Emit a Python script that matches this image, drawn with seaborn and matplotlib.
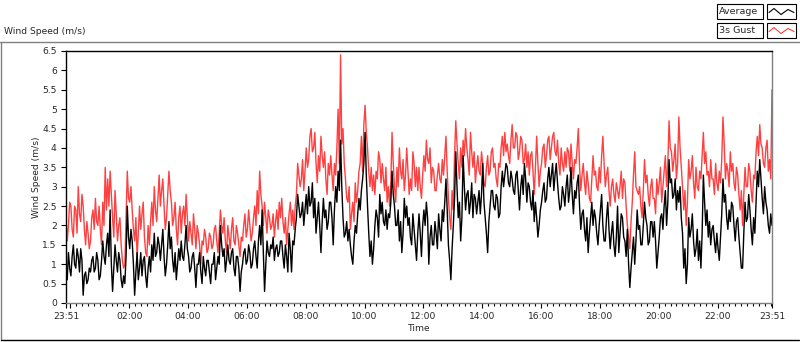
import numpy as np
import pandas as pd
import matplotlib
matplotlib.use("Agg")
import matplotlib.pyplot as plt
import seaborn as sns
from matplotlib.lines import Line2D
from matplotlib.patches import Rectangle

# 2.5-minute samples, one row per hour starting 23:51
gust_speed = [
    2.2, 1.6, 2.0, 2.6, 2.5, 1.9, 1.7, 2.5, 2.4, 1.8, 3.0, 2.3, 2.1, 2.8, 2.5, 1.9, 1.5, 2.1, 1.8, 1.4, 1.6, 2.2, 2.4, 1.9,
    2.7, 2.1, 2.0, 2.5, 1.9, 1.5, 2.6, 2.0, 3.5, 2.4, 3.2, 2.5, 3.4, 2.8, 2.2, 1.7, 2.9, 2.3, 1.6, 2.0, 2.2, 1.5, 1.1, 0.9,
    1.0, 2.2, 3.4, 2.7, 2.6, 3.0, 2.4, 1.9, 1.6, 2.2, 1.2, 1.8, 2.5, 1.9, 2.3, 2.6, 1.7, 1.3, 1.2, 2.0, 1.5, 2.1, 2.6, 2.0,
    3.0, 2.4, 2.1, 2.7, 3.3, 2.5, 2.9, 3.2, 2.5, 1.9, 2.2, 2.8, 3.4, 2.9, 2.6, 2.0, 2.2, 2.6, 1.9, 1.5, 2.2, 2.5, 1.8, 2.3,
    2.5, 2.0, 2.8, 2.2, 1.6, 2.1, 1.8, 1.5, 2.3, 1.9, 1.4, 2.0, 1.8, 1.5, 1.0, 1.6, 1.5, 1.9, 1.7, 1.3, 1.4, 1.8, 1.7, 1.4,
    1.5, 1.9, 2.0, 1.6, 1.3, 1.8, 2.4, 2.0, 1.8, 2.2, 1.6, 1.3, 2.0, 1.7, 1.4, 1.9, 2.2, 1.6, 1.5, 2.0, 1.8, 1.5, 1.2, 1.7,
    1.6, 2.0, 2.3, 1.7, 1.9, 2.4, 2.0, 1.6, 1.8, 2.2, 2.5, 2.0, 2.9, 2.3, 3.4, 2.8, 2.5, 2.0, 2.6, 2.2, 1.8, 2.4, 2.2, 1.9,
    2.0, 2.3, 1.7, 2.1, 2.4, 1.9, 2.6, 2.2, 2.7, 2.1, 1.8, 2.2, 1.5, 1.9, 2.3, 2.6, 2.0, 2.4, 1.9, 2.5, 2.8, 3.6, 3.3, 3.0,
    3.2, 3.7, 2.9, 3.4, 4.0, 3.5, 3.7, 4.3, 4.5, 3.9, 4.0, 4.4, 3.6, 3.1, 3.8, 3.4, 4.3, 3.8, 3.5, 3.9, 3.2, 2.8, 3.6, 3.3,
    3.8, 3.3, 2.9, 3.6, 3.3, 4.0, 5.0, 3.6, 6.4, 4.1, 4.5, 3.6, 3.2, 2.7, 2.6, 3.0, 1.9, 2.3, 2.6, 2.1, 3.1, 2.6, 2.9, 3.4,
    3.6, 4.3, 3.4, 4.6, 5.1, 4.4, 4.0, 3.4, 3.0, 3.5, 2.9, 3.3, 2.8, 3.4, 3.2, 3.9, 3.7, 3.1, 3.6, 3.2, 2.9, 3.5, 2.6, 3.0,
    2.5, 3.1, 4.4, 3.6, 3.0, 2.6, 3.5, 3.0, 4.0, 3.4, 3.2, 3.7, 2.9, 3.3, 4.0, 3.4, 2.8, 3.2, 2.9, 3.9, 3.6, 3.0, 3.5, 2.9,
    3.5, 3.0, 2.7, 3.3, 3.8, 3.4, 4.2, 3.7, 3.6, 4.0, 3.1, 3.5, 3.4, 2.9, 2.9, 3.3, 3.6, 3.2, 3.1, 3.7, 3.3, 3.8, 4.3, 3.4,
    2.7, 2.2, 1.9, 2.9, 2.4, 3.8, 4.7, 4.1, 3.6, 3.2, 4.0, 3.5, 4.2, 3.8, 4.5, 4.0, 3.7, 3.3, 4.4, 3.9, 3.5, 3.9, 3.1, 3.5,
    3.8, 3.4, 3.3, 3.9, 3.6, 3.1, 3.0, 3.5, 3.8, 3.3, 3.4, 3.9, 4.0, 3.5, 3.6, 3.2, 3.0, 3.6, 3.5, 4.0, 4.3, 3.8, 4.4, 3.9,
    4.1, 3.8, 3.6, 4.2, 4.6, 4.0, 4.0, 4.4, 4.3, 3.7, 3.9, 4.3, 4.2, 3.6, 3.7, 4.1, 3.5, 3.9, 3.3, 3.8, 3.9, 3.4, 2.8, 3.5,
    4.3, 3.6, 3.0, 3.4, 3.6, 4.0, 4.1, 3.5, 3.8, 4.2, 4.3, 3.7, 4.0, 4.3, 4.4, 3.9, 3.8, 4.2, 3.6, 3.3, 4.0, 3.6, 3.4, 3.9,
    3.5, 4.0, 3.9, 3.4, 4.1, 3.6, 3.2, 3.7, 3.6, 4.0, 4.5, 3.5, 2.9, 3.3, 3.6, 3.1, 2.8, 3.4, 3.1, 2.7, 2.6, 3.2, 3.8, 3.3,
    3.4, 3.0, 2.9, 3.5, 3.1, 3.8, 4.3, 3.6, 3.0, 3.3, 3.5, 2.9, 2.5, 3.0, 3.2, 2.8, 2.6, 3.1, 2.9, 2.7, 3.0, 3.4, 2.7, 3.2,
    3.1, 2.5, 2.0, 1.7, 1.4, 2.1, 2.6, 3.3, 3.9, 3.0, 2.9, 2.8, 3.0, 2.5, 2.2, 2.9, 3.7, 3.1, 3.3, 2.8, 2.5, 3.0, 3.2, 2.7,
    2.7, 2.3, 3.2, 2.8, 3.1, 3.5, 2.6, 3.0, 3.4, 3.8, 3.0, 3.6, 4.7, 4.0, 3.9, 3.4, 3.7, 4.1, 3.2, 3.6, 4.8, 4.0, 3.5, 3.0,
    2.4, 2.9, 2.0, 2.6, 3.7, 3.2, 3.4, 3.8, 3.1, 2.7, 3.5, 3.0, 2.9, 3.4, 3.2, 3.8, 4.4, 3.6, 3.9, 3.3, 3.4, 3.0, 3.7, 3.2,
    3.2, 2.8, 3.6, 3.1, 2.9, 3.4, 3.1, 3.7, 4.8, 4.1, 3.2, 3.6, 3.4, 3.0, 3.9, 3.4, 3.6, 3.1, 2.9, 3.5, 3.3, 2.8, 2.4, 2.9,
    2.0, 2.8, 3.5, 3.0, 3.0, 3.6, 3.4, 2.9, 2.6, 3.3, 3.2, 3.9, 4.3, 3.8, 4.6, 4.1, 4.0, 3.6, 3.5, 4.0, 4.2, 3.4, 3.7, 3.2,
    5.5,
]
avg_speed = [
    1.0, 0.6, 1.3, 0.9, 0.7, 1.2, 1.5, 1.0, 0.9, 1.4, 1.2, 0.8, 1.4, 1.1, 0.2, 0.7, 0.8, 0.5, 0.6, 0.9, 0.8, 1.1, 1.2, 0.8,
    0.9, 1.3, 1.1, 0.6, 0.7, 1.1, 1.6, 1.2, 1.0, 1.5, 1.8, 1.2, 2.4, 1.0, 0.3, 0.9, 1.5, 1.1, 0.8, 1.3, 1.1, 0.6, 0.4, 0.7,
    0.5, 1.2, 2.5, 1.7, 1.4, 1.9, 1.6, 1.0, 0.2, 0.8, 1.3, 0.6, 0.9, 1.3, 0.7, 1.1, 1.2, 0.7, 0.4, 0.9, 1.2, 0.8, 1.5, 1.1,
    1.8, 1.2, 1.3, 1.7, 1.5, 1.1, 1.5, 1.9, 1.2, 0.7, 1.0, 1.5, 2.1, 1.4, 1.7, 1.1, 0.8, 1.3, 0.6, 1.0, 1.4, 1.1, 1.6, 1.2,
    1.1, 1.5, 2.0, 1.4, 1.2, 0.8, 0.9, 1.2, 1.3, 0.9, 0.4, 1.0, 1.0, 1.3, 0.8, 0.5, 1.2, 0.9, 0.7, 1.1, 1.1, 0.8, 0.5, 1.0,
    1.0, 1.3, 0.6, 0.9, 1.2, 1.0, 2.0, 1.5, 1.2, 1.4, 0.8, 1.1, 1.5, 1.1, 1.0, 1.3, 1.4, 0.9, 0.7, 1.2, 1.2, 0.9, 0.3, 0.8,
    1.0, 1.3, 1.4, 1.0, 1.1, 1.5, 1.3, 0.9, 1.0, 1.4, 1.6, 1.2, 0.9, 1.6, 2.0, 1.5, 2.4, 1.3, 0.3, 1.0, 1.6, 1.3, 1.2, 1.5,
    1.4, 1.7, 1.1, 1.4, 1.5, 1.2, 1.3, 1.6, 1.6, 1.2, 0.9, 1.5, 1.2, 0.8, 1.8, 1.4, 0.8, 1.6, 1.5, 1.9, 2.2, 2.8, 2.5, 2.2,
    2.3, 2.6, 2.0, 2.4, 2.8, 2.3, 3.0, 2.5, 2.6, 3.1, 2.2, 2.7, 1.8, 2.2, 2.6, 2.0, 1.3, 2.1, 2.7, 2.2, 2.4, 1.9, 2.1, 2.6,
    2.6, 2.2, 1.5, 2.4, 3.0, 2.6, 3.4, 2.9, 4.2, 3.0, 2.2, 1.7, 1.8, 2.1, 1.6, 1.9, 1.5, 1.2, 1.0, 1.6, 2.0, 1.8, 2.3, 2.7,
    2.4, 2.9, 3.2, 3.6, 4.4, 3.3, 2.5, 1.8, 1.2, 1.6, 1.0, 1.4, 2.0, 2.4, 2.2, 1.7, 2.8, 2.3, 2.6, 2.1, 2.0, 2.4, 1.9, 2.3,
    2.2, 2.6, 3.4, 2.8, 2.5, 2.0, 2.0, 2.4, 1.6, 2.1, 1.3, 1.8, 2.7, 2.2, 2.5, 2.0, 2.2, 1.7, 1.5, 2.3, 1.9, 1.5, 1.1, 1.8,
    2.3, 1.8, 1.2, 2.0, 2.4, 2.0, 2.6, 2.2, 1.0, 1.7, 2.0, 1.5, 1.5, 2.1, 1.8, 1.4, 2.3, 1.9, 1.6, 2.4, 2.1, 2.6, 3.2, 2.4,
    1.5, 1.1, 0.6, 1.4, 2.0, 2.7, 3.9, 3.0, 2.2, 2.6, 1.6, 2.2, 3.8, 3.0, 2.4, 2.8, 2.9, 2.3, 2.6, 3.1, 2.2, 2.8, 2.7, 2.3,
    2.6, 2.9, 2.3, 2.8, 3.6, 2.6, 2.2, 1.8, 1.3, 2.1, 2.5, 2.9, 2.9, 2.5, 2.4, 2.8, 2.7, 2.2, 2.3, 3.0, 3.4, 3.0, 3.3, 3.6,
    3.5, 3.1, 3.0, 3.4, 3.2, 2.9, 2.8, 3.3, 3.4, 2.9, 2.4, 3.0, 3.3, 2.8, 3.6, 3.2, 2.6, 3.1, 3.0, 2.6, 2.4, 2.9, 2.1, 2.6,
    2.2, 1.7, 2.0, 2.4, 2.6, 2.9, 3.1, 2.6, 2.7, 3.2, 3.5, 3.0, 3.3, 3.6, 2.9, 3.3, 3.6, 3.1, 2.7, 2.4, 2.5, 3.0, 2.8, 2.5,
    3.0, 3.3, 2.6, 2.9, 3.5, 2.8, 2.3, 2.9, 2.7, 3.1, 3.3, 2.5, 1.9, 2.3, 2.4, 1.9, 1.6, 2.2, 1.3, 1.8, 2.2, 2.6, 2.0, 2.4,
    2.2, 1.8, 1.5, 2.0, 2.4, 2.8, 2.0, 1.6, 1.6, 2.2, 2.6, 1.9, 1.4, 1.8, 2.1, 1.5, 1.2, 1.7, 2.5, 1.3, 1.8, 2.3, 2.2, 1.7,
    1.6, 1.2, 1.9, 1.0, 0.4, 0.9, 1.3, 1.7, 1.0, 1.6, 2.4, 1.9, 2.0, 1.5, 1.5, 2.0, 2.6, 2.2, 2.0, 1.5, 1.6, 2.1, 2.1, 1.7,
    2.1, 1.6, 0.9, 1.3, 1.7, 2.2, 2.3, 1.9, 2.5, 2.9, 2.0, 2.6, 3.7, 3.1, 3.2, 2.7, 2.8, 3.2, 2.4, 2.9, 2.6, 3.0, 2.2, 1.8,
    0.9, 1.4, 0.5, 1.0, 2.2, 1.7, 1.9, 2.3, 1.6, 1.2, 1.4, 1.9, 1.1, 1.6, 0.9, 1.8, 3.3, 2.6, 2.0, 2.4, 1.7, 2.1, 1.5, 1.9,
    2.0, 1.6, 1.3, 1.8, 1.4, 1.1, 1.7, 2.3, 3.2, 2.6, 2.8, 2.2, 1.9, 2.4, 2.1, 2.6, 2.5, 2.0, 1.6, 2.1, 2.2, 1.7, 1.3, 0.9,
    0.9, 1.8, 2.6, 2.1, 2.2, 2.8, 2.4, 1.9, 1.5, 2.2, 1.8, 2.6, 3.4, 3.0, 3.7, 3.2, 2.7, 2.3, 3.0, 2.6, 2.4, 2.0, 1.8, 2.3,
    2.0,
]
sample_minutes = np.arange(0, 1440.1, 2.5)  # minutes after 23:51

tick_minutes = [0, 9, 129, 249, 369, 489, 609, 729, 849, 969, 1089, 1209, 1329, 1440]
tick_labels = ["23:51", "", "02:00", "04:00", "06:00", "08:00", "10:00", "12:00",
               "14:00", "16:00", "18:00", "20:00", "22:00", "23:51"]
y_ticks = np.arange(0, 6.51, 0.5)

GUST_RED = "#ff4040"

sns.set_style("white")
plt.rcParams["font.family"] = ["DejaVu Sans"]
plt.rcParams["font.size"] = 6.6

df = pd.DataFrame({"minute": sample_minutes, "Average": avg_speed, "3s Gust": gust_speed})

W, H = 800, 342
fig, ax = plt.subplots(figsize=(W / 100, H / 100), dpi=100)
fig.subplots_adjust(left=66 / W, right=772 / W, bottom=1 - 303 / H, top=1 - 51 / H)

sns.lineplot(data=df, x="minute", y="3s Gust", color=GUST_RED, lw=1, ax=ax)
sns.lineplot(data=df, x="minute", y="Average", color="black", lw=1, ax=ax)

ax.set_xlim(0, 1440)
ax.set_ylim(0, 6.5)
ax.set_xticks(tick_minutes)
ax.set_xticklabels(tick_labels)
ax.set_xticks(np.arange(21, 1440, 12), minor=True)
ax.set_yticks(y_ticks)
ax.set_yticklabels([f"{v:g}" for v in y_ticks])
ax.tick_params(axis="both", which="major", direction="out", length=3.6, width=0.8,
               color="black", labelsize=6.6, pad=3)
ax.tick_params(axis="x", which="minor", direction="out", length=2.2, width=0.8, color="black")
ax.tick_params(axis="x", which="both", bottom=True)
ax.tick_params(axis="y", which="both", left=True)

ax.set_xlabel("Time", fontsize=6.6)
ax.set_ylabel("Wind Speed (m/s)", fontsize=6.6)
ax.xaxis.set_label_coords(0.5, -0.085)
ax.yaxis.set_label_coords(-0.036, 0.5)

for side in ["left", "top"]:
    ax.spines[side].set_color("black")
    ax.spines[side].set_linewidth(1.0)
for side in ["right", "bottom"]:
    ax.spines[side].set_color("#808080")
    ax.spines[side].set_linewidth(1.0)


def fx(px):
    return px / W


def fy(py):
    return 1 - py / H


# outer chart frame
fig.add_artist(Line2D([fx(0), fx(W)], [fy(42), fy(42)], color="#808080", lw=1))
fig.add_artist(Line2D([fx(1), fx(1)], [fy(42), fy(340)], color="#808080", lw=1))
fig.add_artist(Line2D([fx(1), fx(799)], [fy(340), fy(340)], color="black", lw=1))

fig.text(fx(4), fy(31), "Wind Speed (m/s)", ha="left", va="center", fontsize=6.6)

# plot legend in the top right corner
legend_rows = [("Average", "black", 4), ("3s Gust", GUST_RED, 23)]
for label, colour, top in legend_rows:
    fig.add_artist(Rectangle((fx(717), fy(top + 15)), 46 / W, 15 / H, transform=fig.transFigure,
                             facecolor="white", edgecolor="black", lw=0.8))
    fig.add_artist(Rectangle((fx(767), fy(top + 15)), 29 / W, 15 / H, transform=fig.transFigure,
                             facecolor="white", edgecolor="black", lw=0.8))
    fig.text(fx(719), fy(top + 7.5), label, ha="left", va="center", fontsize=6.8)
    mid = top + 7.5
    fig.add_artist(Line2D([fx(769), fx(774), fx(781), fx(788), fx(794)],
                          [fy(mid + 1), fy(mid - 3), fy(mid + 3), fy(mid - 2), fy(mid + 1)],
                          color=colour, lw=0.8))

fig.savefig("out.png", dpi=100)
